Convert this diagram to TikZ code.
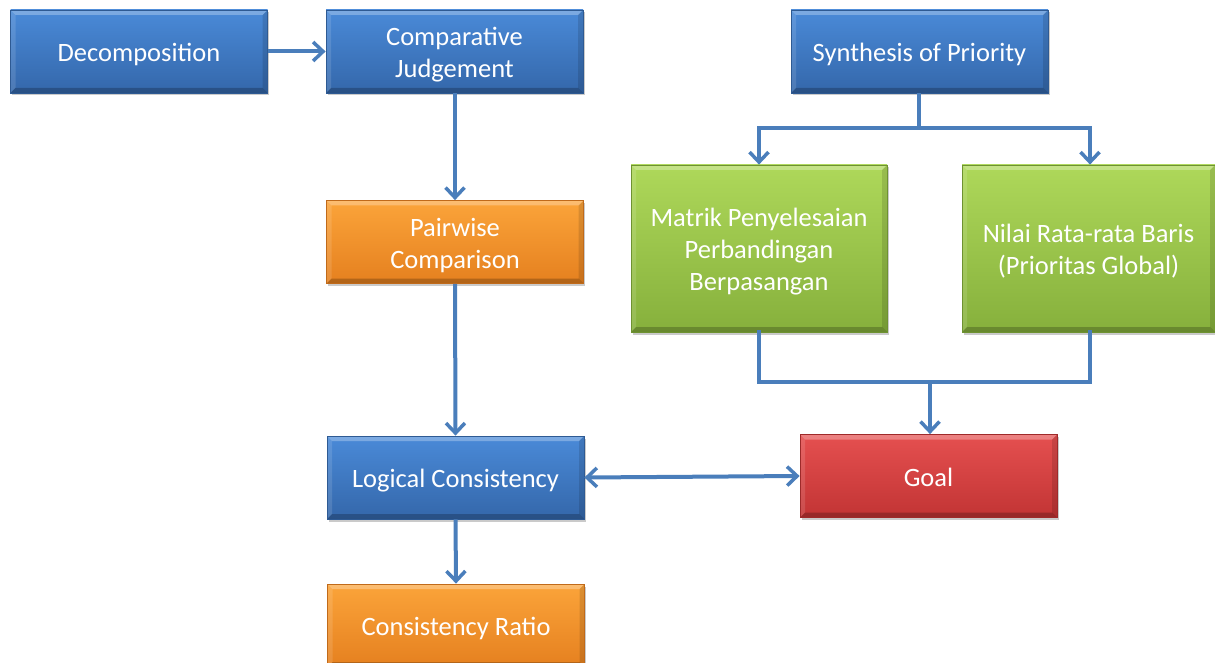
\documentclass[tikz,border=0pt]{standalone}
\usepackage{fontspec}
\setmainfont{Carlito}
\usetikzlibrary{arrows.meta,shadows}
\definecolor{bluetop}{HTML}{4A8AD8}
\definecolor{bluebot}{HTML}{3467AA}
\definecolor{blueedge}{HTML}{2E5A93}
\definecolor{orgtop}{HTML}{FBA43A}
\definecolor{orgbot}{HTML}{E5801F}
\definecolor{orgedge}{HTML}{C06A1A}
\definecolor{grntop}{HTML}{AED85A}
\definecolor{grnbot}{HTML}{86B03C}
\definecolor{grnedge}{HTML}{6E9231}
\definecolor{redtop}{HTML}{E55050}
\definecolor{redbot}{HTML}{C23434}
\definecolor{rededge}{HTML}{9E2A2A}
\definecolor{conn}{HTML}{4A7EBB}
\newcommand{\boxtext}[1]{\raisebox{-4pt}[\height][\depth]{\begin{tabular}{@{}c@{}}#1\end{tabular}}}
\tikzset{
  bevel/.style={path picture={
    \def\bb{path picture bounding box}
    \fill[white, opacity=0.28] (\bb.north west) -- (\bb.north east) -- ([xshift=-5pt,yshift=-5pt]\bb.north east) -- ([xshift=5pt,yshift=-5pt]\bb.north west) -- cycle;
    \fill[white, opacity=0.12] (\bb.north west) -- ([xshift=5pt,yshift=-5pt]\bb.north west) -- ([xshift=5pt,yshift=5pt]\bb.south west) -- (\bb.south west) -- cycle;
    \fill[black, opacity=0.12] (\bb.north east) -- ([xshift=-5pt,yshift=-5pt]\bb.north east) -- ([xshift=-5pt,yshift=5pt]\bb.south east) -- (\bb.south east) -- cycle;
    \fill[black, opacity=0.22] (\bb.south west) -- ([xshift=5pt,yshift=5pt]\bb.south west) -- ([xshift=-5pt,yshift=5pt]\bb.south east) -- (\bb.south east) -- cycle;
  }},
  box/.style={rectangle, minimum width=257pt, minimum height=83pt, inner sep=0pt,
    text=white, align=center, font=\fontsize{26.5}{32}\selectfont,
    line width=0.8pt, bevel,
    drop shadow={shadow xshift=1.5pt, shadow yshift=-2.5pt, opacity=0.35, fill=black!60}},
  bluebox/.style={box, top color=bluetop, bottom color=bluebot, draw=blueedge},
  orgbox/.style={box, top color=orgtop, bottom color=orgbot, draw=orgedge},
  grnbox/.style={box, top color=grntop, bottom color=grnbot, draw=grnedge},
  redbox/.style={box, top color=redtop, bottom color=redbot, draw=rededge},
  link/.style={draw=conn, line width=4pt},
  tip/.tip={Straight Barb[length=10pt,width=19pt,line width=3.5pt]},
  arr/.style={link, -tip},
  darr/.style={link, tip-tip},
}
\begin{document}
\begin{tikzpicture}[x=1pt,y=-1pt]
\useasboundingbox (0,0) rectangle (1215,663);
\clip (0,0) rectangle (1215,663);
\node[bluebox] (dec) at (139,51.5) {\boxtext{Decomposition}};
\node[bluebox] (cj) at (454.5,51.5) {\boxtext{Comparative\\Judgement}};
\node[bluebox] (syn) at (919.5,51.5) {\boxtext{Synthesis of Priority}};
\node[orgbox] (pw) at (455,242) {\boxtext{Pairwise\\Comparison}};
\node[grnbox, minimum width=256pt, minimum height=167pt] (mat) at (759,248.5) {\boxtext{Matrik Penyelesaian\\Perbandingan\\Berpasangan}};
\node[grnbox, minimum width=253pt, minimum height=167pt] (nil) at (1088.5,248.5) {\boxtext{Nilai Rata-rata Baris\\(Prioritas Global)}};
\node[bluebox] (lc) at (455.5,477.5) {\boxtext{Logical Consistency}};
\node[redbox] (goal) at (928.5,476) {\boxtext{Goal}};
\node[orgbox] (cr) at (456,625.5) {\boxtext{Consistency Ratio}};

\coordinate (synj) at (919,128);
\coordinate (synl) at (759,128);
\coordinate (synr) at (1090,128);
\coordinate (botl) at (759,382);
\coordinate (botr) at (1090,382);
\coordinate (botm) at (930,382);
\coordinate (cjb) at (455,93);

\draw[arr] (dec.east) -- (cj.west);
\draw[arr] (cjb) -- (pw.north -| cjb);
\draw[arr] (pw.south) -- (lc.north);
\draw[arr] (lc.south) -- (cr.north);
\draw[darr] (lc.east) -- (goal.west);
\draw[link] (syn.south -| synj) -- (synj);
\draw[link, line cap=rect] (synl) -- (synr);
\draw[arr] (synl) -- (mat.north -| synl);
\draw[arr] (synr) -- (nil.north -| synr);
\draw[link, line cap=rect] (mat.south -| botl) -- (botl) -- (botr) -- (nil.south -| botr);
\draw[arr] (botm) -- (goal.north -| botm);
\end{tikzpicture}
\end{document}
